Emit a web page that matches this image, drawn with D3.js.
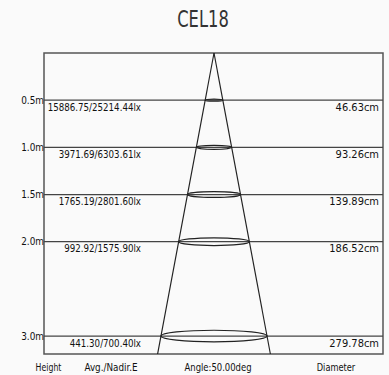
<!DOCTYPE html>
<html>
<head>
<meta charset="utf-8">
<script src="https://cdn.jsdelivr.net/npm/d3@7"></script>
<style>
  html, body { margin: 0; padding: 0; background: #fafafa; }
  svg { display: block; }
  text { font-family: "DejaVu Sans", sans-serif; fill: #111; }
</style>
</head>
<body>
<svg id="chart" width="389" height="375"></svg>
<script>
const title = "CEL18";
const heights = [0.5, 1.0, 1.5, 2.0, 3.0];
const heightLabels = ["0.5m", "1.0m", "1.5m", "2.0m", "3.0m"];
const avgLux = ["15886.75", "3971.69", "1765.19", "992.92", "441.30"];
const nadirLux = ["25214.44", "6303.61", "2801.60", "1575.90", "700.40"];
const diameters = [46.63, 93.26, 139.89, 186.52, 279.78];
const footerLabels = ["Height", "Avg./Nadir.E", "Angle:50.00deg", "Diameter"];
const maxHeight = 3.19;

const svg = d3.select("#chart");
const frameL = 44, frameR = 383, frameT = 53, frameB = 354, apexX = 214;

const y = d3.scaleLinear().domain([0, maxHeight]).range([frameT, frameB]);
const x = d3.scaleLinear().domain([-100, 100]).range([apexX - 37.9, apexX + 37.9]);

// place a text at (px, py) and condense it horizontally (narrow font look)
function place(sel, px, py, factor) {
  sel.attr("x", 0).attr("y", 0)
     .attr("transform", (d, i) => `translate(${px(d, i)},${py(d, i)}) scale(${typeof factor === "function" ? factor(d, i) : factor},1)`);
}

// title
svg.append("text").attr("text-anchor", "middle")
  .style("font-size", "23px").style("fill", "#333").text(title)
  .call(place, () => 203, () => 27, 0.71);

// frame
svg.append("rect").attr("x", frameL).attr("y", frameT).attr("width", frameR - frameL).attr("height", frameB - frameT)
  .attr("fill", "none").attr("stroke", "#555").attr("stroke-width", 1.5);

// horizontal height lines
svg.selectAll("line.h").data(heights).join("line").attr("class", "h")
  .attr("x1", frameL).attr("x2", frameR).attr("y1", d => y(d)).attr("y2", d => y(d))
  .attr("stroke", "#444").attr("stroke-width", 1.3);

// cone
const perM = diameters[diameters.length - 1] / heights[heights.length - 1];
const bottomR = perM * maxHeight / 2;
[-1, 1].forEach(s => {
  svg.append("line").attr("x1", x(0)).attr("y1", y(0)).attr("x2", x(s * bottomR)).attr("y2", y(maxHeight))
    .attr("stroke", "#222").attr("stroke-width", 1.2);
});

// ellipses
svg.selectAll("ellipse").data(heights).join("ellipse")
  .attr("cx", x(0)).attr("cy", d => y(d))
  .attr("rx", (d, i) => x(diameters[i] / 2) - x(0))
  .attr("ry", (d, i) => (x(diameters[i] / 2) - x(0)) * 0.11)
  .attr("fill", "none").attr("stroke", "#222").attr("stroke-width", 1.2);

// height labels
svg.selectAll("text.hl").data(heights).join("text").attr("class", "hl")
  .attr("text-anchor", "end")
  .style("font-size", "11px").text((d, i) => heightLabels[i])
  .call(place, () => frameL, d => y(d) + 3.5, 0.81);

// lux labels
svg.selectAll("text.lux").data(heights).join("text").attr("class", "lux")
  .attr("text-anchor", "end")
  .style("font-size", "11px").text((d, i) => avgLux[i] + "/" + nadirLux[i] + "lx")
  .call(place, () => 141, d => y(d) + 10.5, 0.79);

// diameter labels
svg.selectAll("text.dia").data(heights).join("text").attr("class", "dia")
  .attr("text-anchor", "end")
  .style("font-size", "11px").text((d, i) => diameters[i].toFixed(2) + "cm")
  .call(place, () => 379, d => y(d) + 10.5, 0.9);

// footer
const footX = [48.5, 111, 218, 336];
const footSquash = [0.71, 0.8, 0.77, 0.75];
svg.selectAll("text.foot").data(footerLabels).join("text").attr("class", "foot")
  .attr("text-anchor", "middle")
  .style("font-size", "11px").text(d => d)
  .call(place, (d, i) => footX[i], () => 371, (d, i) => footSquash[i]);
</script>
</body>
</html>
